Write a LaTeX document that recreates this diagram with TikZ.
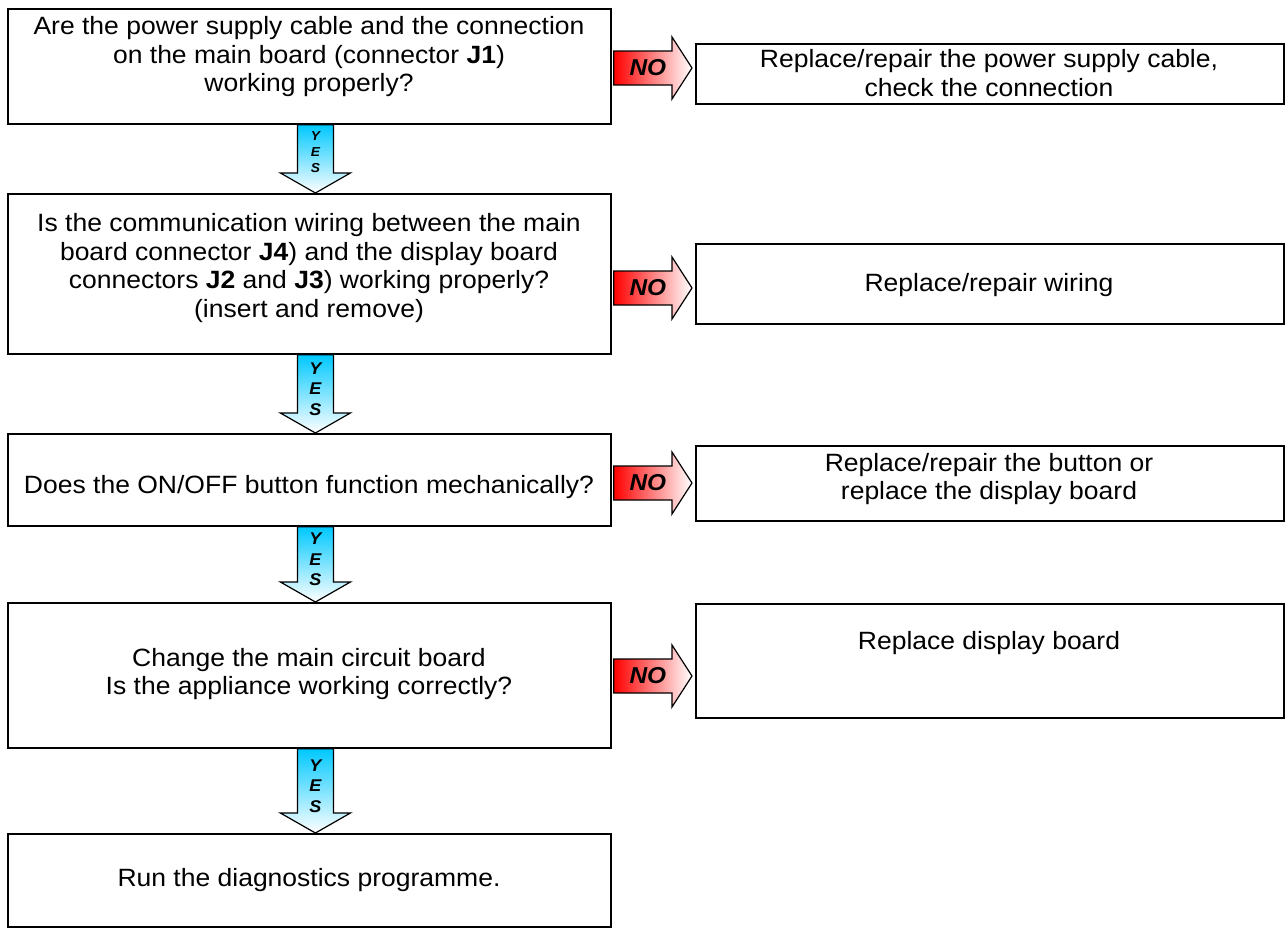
\documentclass[tikz,border=0pt]{standalone}
\usepackage{fontspec}
\setmainfont[FakeStretch=1.06]{Liberation Sans}
\usetikzlibrary{calc}
\definecolor{yescyan}{RGB}{0,200,255}
\definecolor{nored}{RGB}{255,0,0}
\tikzset{
  box/.style={draw=black,line width=1.8pt,inner sep=0pt,fill=white},
  txt/.style={align=center,font=\fontsize{25}{28.5}\selectfont,inner sep=0pt},
  noarr/.style={draw=black,line width=1.2pt,left color=nored,right color=white},
  yesarr/.style={draw=black,line width=1.2pt,top color=yescyan,bottom color=white},
  nolab/.style={font=\fontsize{23}{23}\selectfont\bfseries\itshape,inner sep=0pt},
  yeslab/.style={align=center,font=\fontsize{17}{20.5}\selectfont\bfseries\itshape,inner sep=0pt},
  yeslabsmall/.style={align=center,font=\fontsize{13}{16}\selectfont\bfseries\itshape,inner sep=0pt}
}
\newcommand{\noblock}[2]{% #1 start coord, #2 end coord
  \path[noarr] let \p1=(#1), \p2=(#2) in
    (\x1+2pt,\y1+17pt) -- (\x2-23pt,\y1+17pt) -- (\x2-23pt,\y1+31pt) -- (\x2-3pt,\y1)
    -- (\x2-23pt,\y1-31pt) -- (\x2-23pt,\y1-17pt) -- (\x1+2pt,\y1-17pt) -- cycle;}
\newcommand{\yesblock}[2]{% #1 start coord, #2 end coord
  \path[yesarr] let \p1=(#1), \p2=(#2) in
    (\x1-18pt,\y1) -- (\x1+18pt,\y1) -- (\x1+18pt,\y2+20pt) -- (\x1+35pt,\y2+20pt)
    -- (\x1,\y2) -- (\x1-35pt,\y2+20pt) -- (\x1-18pt,\y2+20pt) -- cycle;}
\begin{document}
\begin{tikzpicture}[x=1pt,y=-1pt]
\useasboundingbox[fill=white] (0,0) rectangle (1288,929);

% boxes
\node[box,anchor=north west,minimum width=603pt,minimum height=115pt] (b1) at (7,8) {};
\node[box,anchor=north west,minimum width=588pt,minimum height=60pt]  (r1) at (695,43) {};
\node[box,anchor=north west,minimum width=603pt,minimum height=160pt] (b2) at (7,193) {};
\node[box,anchor=north west,minimum width=588pt,minimum height=80pt]  (r2) at (695,243) {};
\node[box,anchor=north west,minimum width=603pt,minimum height=92pt]  (b3) at (7,433) {};
\node[box,anchor=north west,minimum width=588pt,minimum height=75pt]  (r3) at (695,445) {};
\node[box,anchor=north west,minimum width=603pt,minimum height=145pt] (b4) at (7,602) {};
\node[box,anchor=north west,minimum width=588pt,minimum height=114pt] (r4) at (695,603) {};
\node[box,anchor=north west,minimum width=603pt,minimum height=93pt]  (b5) at (7,833) {};

% texts
\node[txt] (t1) at (309,57) {Are the power supply cable and the connection\\on the main board (connector \textbf{J1})\\working properly?};
\node[txt] (tr1) at (989,73) {Replace/repair the power supply cable,\\check the connection};
\node[txt] (t2) at (309,268) {Is the communication wiring between the main\\board connector \textbf{J4}) and the display board\\connectors \textbf{J2} and \textbf{J3}) working properly?\\(insert and remove)};
\node[txt] (tr2) at (989,285) {Replace/repair wiring};
\node[txt] (t3) at (309,487) {Does the ON/OFF button function mechanically?};
\node[txt] (tr3) at (989,479) {Replace/repair the button or\\replace the display board};
\node[txt] (t4) at (309,674) {Change the main circuit board\\Is the appliance working correctly?};
\node[txt] (tr4) at (989,643) {Replace display board};
\node[txt] (t5) at (309,880) {Run the diagnostics programme.};

% NO arrows
\foreach \i/\yy in {1/68,2/288,3/483,4/676}{
  \coordinate (no\i s) at (b\i.east |- 0,\yy);
  \coordinate (no\i e) at (r\i.west |- 0,\yy);
  \noblock{no\i s}{no\i e}
  \node[nolab] (nol\i) at ($(no\i s)+(36,0)$) {NO};
}

% YES arrows
\foreach \i/\j in {1/2,2/3,3/4,4/5}{
  \coordinate (ye\i s) at ($(b\i.south)+(6,0)$);
  \coordinate (ye\i e) at ($(b\j.north)+(6,0)$);
  \yesblock{ye\i s}{ye\i e}
}
\node[yeslabsmall] (yl1) at ($(ye1s)!0.5!(ye1e)+(0,-7)$) {Y\\E\\S};
\node[yeslab] (yl2) at ($(ye2s)!0.5!(ye2e)+(0,-5)$) {Y\\E\\S};
\node[yeslab] (yl3) at ($(ye3s)!0.5!(ye3e)+(0,-5)$) {Y\\E\\S};
\node[yeslab] (yl4) at ($(ye4s)!0.5!(ye4e)+(0,-5)$) {Y\\E\\S};
\end{tikzpicture}
\end{document}
